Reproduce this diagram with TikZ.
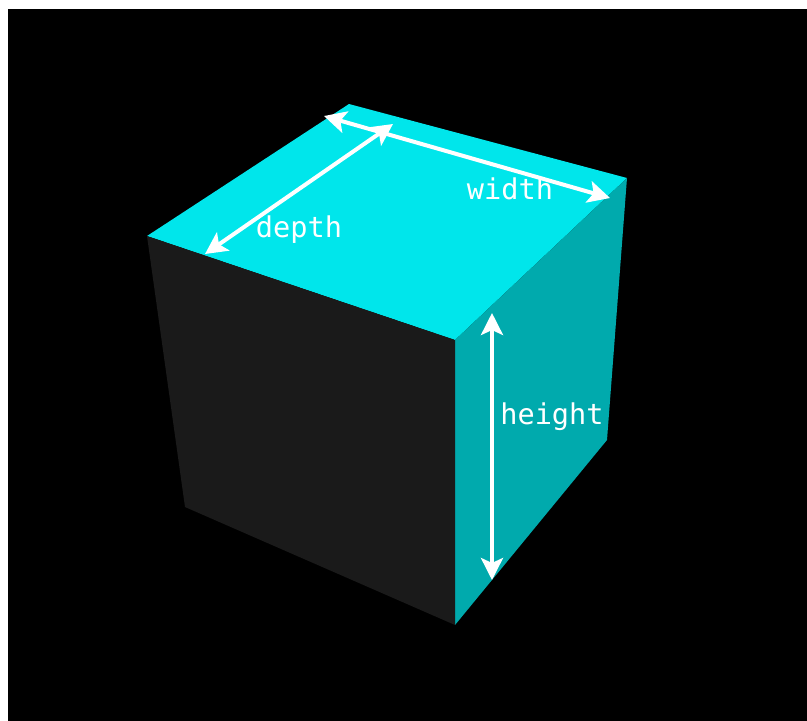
\documentclass[tikz,border=0pt]{standalone}
\usepackage{fontspec}
\setmonofont{DejaVu Sans Mono}
\usetikzlibrary{arrows.meta}
\definecolor{topcyan}{HTML}{00E6EB}
\definecolor{sidecyan}{HTML}{00AAAD}
\definecolor{darkface}{HTML}{1A1A1A}
\tikzset{
  dimline/.style={draw=white,line width=4pt,{Stealth[length=22pt,width=22pt,inset=5pt]}-{Stealth[length=22pt,width=22pt,inset=5pt]}},
  dimlabel/.style={text=white,font=\ttfamily\fontsize{28.6}{30}\selectfont,inner sep=0pt,anchor=base}
}
\begin{document}
\begin{tikzpicture}[x=1pt,y=-1pt]
\useasboundingbox (0,0) rectangle (807,721);
\fill[white] (0,0) rectangle (807,721);
\fill[black] (8,9) rectangle (807,721);
\coordinate (T) at (349,104);
\coordinate (R) at (627,178);
\coordinate (F) at (455,340);
\coordinate (L) at (147,236);
\coordinate (B) at (455,625);
\coordinate (BR) at (607,440);
\coordinate (BL) at (185,507);
\fill[topcyan] (T) -- (R) -- (F) -- (L) -- cycle;
\fill[sidecyan] (R) -- (BR) -- (B) -- (F) -- cycle;
\fill[darkface] (L) -- (F) -- (B) -- (BL) -- cycle;
\coordinate (wa) at (324,116);
\coordinate (wb) at (610,198);
\coordinate (da) at (393,124);
\coordinate (db) at (205,254);
\coordinate (ha) at (492,313);
\coordinate (hb) at (492,580);
\draw[dimline] (wa) -- (wb);
\draw[dimline] (da) -- (db);
\draw[dimline] (ha) -- (hb);
\node[dimlabel] (wlabel) at (510,199) {width};
\node[dimlabel] (dlabel) at (299,237) {depth};
\node[dimlabel] (hlabel) at (552,424) {height};
\end{tikzpicture}
\end{document}
